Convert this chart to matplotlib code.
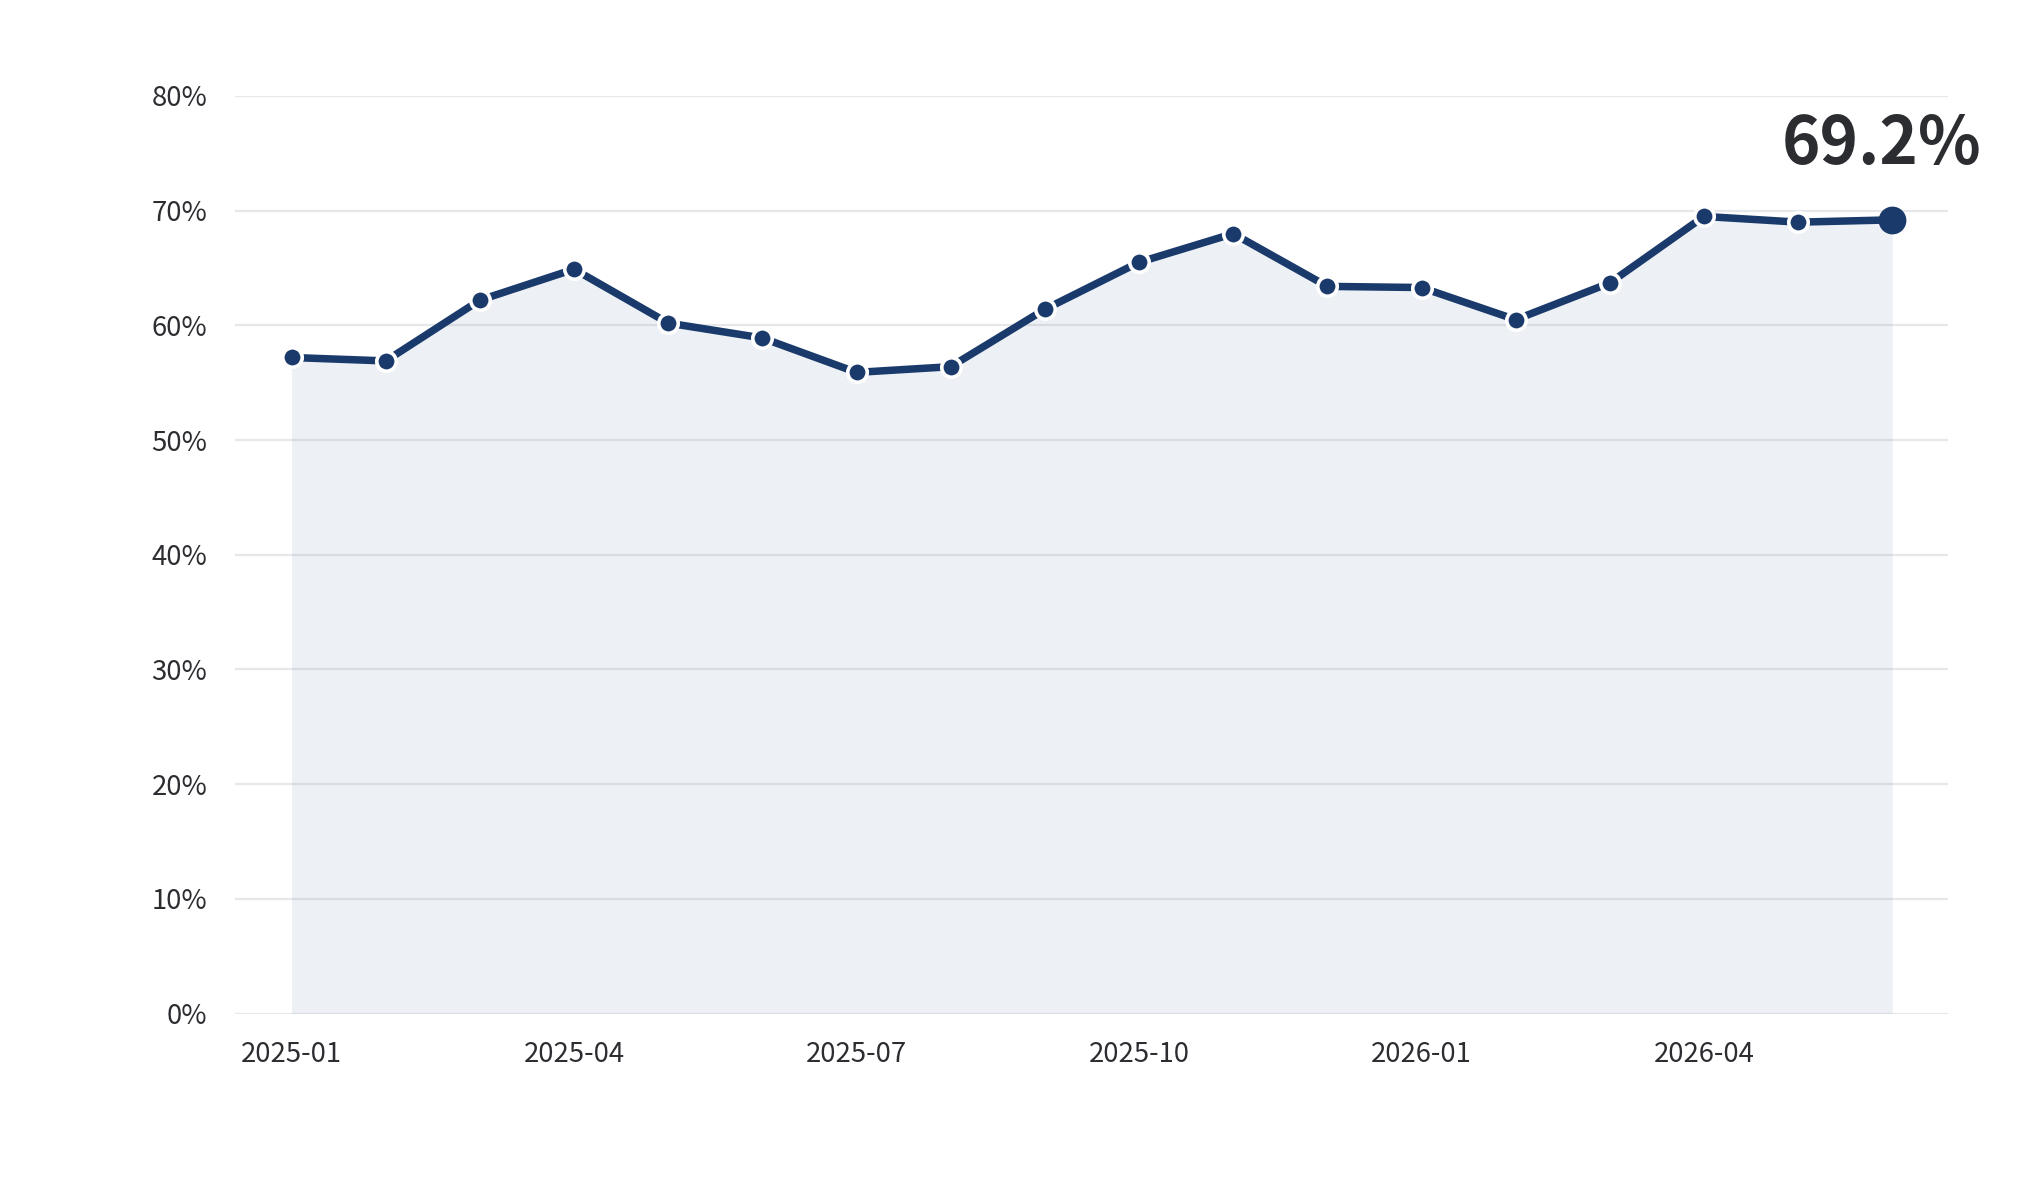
import matplotlib
matplotlib.use("Agg")
import matplotlib.pyplot as plt
from matplotlib.ticker import FuncFormatter

plt.rcParams['font.family'] = ['Noto Sans CJK SC', 'DejaVu Sans']

months = ["2025-01", "2025-02", "2025-03", "2025-04", "2025-05", "2025-06",
          "2025-07", "2025-08", "2025-09", "2025-10", "2025-11", "2025-12",
          "2026-01", "2026-02", "2026-03", "2026-04", "2026-05", "2026-06"]
values = [57.2, 56.9, 62.2, 64.9, 60.2, 58.9, 55.9, 56.4, 61.4, 65.5,
          68.0, 63.4, 63.3, 60.5, 63.7, 69.5, 69.0, 69.2]
tick_labels = ["2025-01", "2025-04", "2025-07", "2025-10", "2026-01", "2026-04"]
y_ticks = [0, 10, 20, 30, 40, 50, 60, 70, 80]

navy = "#1a3a6b"
text_color = "#2b2d31"

fig = plt.figure(figsize=(20.39, 12), dpi=100)
ax = fig.add_axes([0.1153, 0.1554, 0.8400, 0.7646])

x = list(range(len(months)))
ax.fill_between(x, values, 0, color="#1f4a7a", alpha=0.08, linewidth=0, zorder=1)
ax.plot(x, values, color=navy, linewidth=5.4, zorder=3, solid_joinstyle='round')
ax.plot(x[:-1], values[:-1], linestyle='none', marker='o', markersize=14,
        markerfacecolor=navy, markeredgecolor='white', markeredgewidth=2.6, zorder=4)
ax.plot([x[-1]], [values[-1]], linestyle='none', marker='o', markersize=20,
        markerfacecolor=navy, markeredgecolor=navy, markeredgewidth=0, zorder=5)

ax.annotate(f"{values[-1]:.1f}%", xy=(x[-1], values[-1]), xytext=(-8, 30),
            textcoords='offset points', ha='center', va='bottom',
            fontsize=47, fontweight='bold', color=text_color, zorder=6)

ax.set_xlim(-0.6, len(months) - 1 + 0.59)
ax.set_ylim(0, 80)
ax.set_yticks(y_ticks)
ax.yaxis.set_major_formatter(FuncFormatter(lambda v, p: f"{int(v)}%"))
ax.set_xticks([months.index(t) for t in tick_labels])
ax.set_xticklabels(tick_labels)

ax.grid(axis='y', color='#8a93a3', alpha=0.22, linewidth=1.6, zorder=2)
ax.set_axisbelow(False)
for s in ax.spines.values():
    s.set_visible(False)
ax.tick_params(axis='both', length=0, labelsize=19.8, colors=text_color)
ax.tick_params(axis='y', pad=20)
ax.tick_params(axis='x', pad=20)
for lbl in ax.get_xticklabels() + ax.get_yticklabels():
    lbl.set_color(text_color)

fig.savefig("out.png", dpi=100, facecolor='white')
